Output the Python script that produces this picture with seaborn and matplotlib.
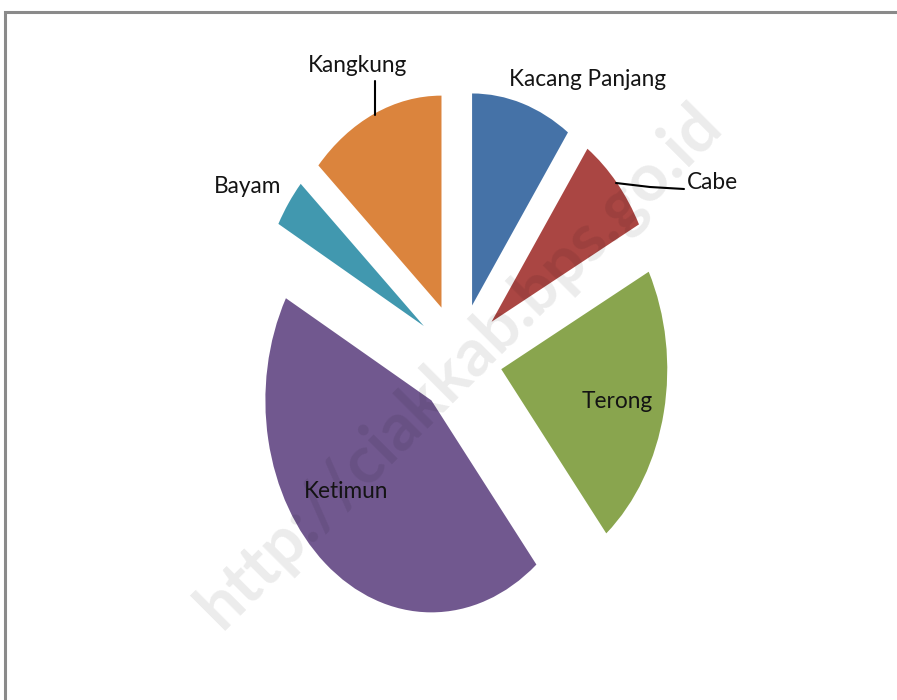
import matplotlib
matplotlib.use("Agg")
import matplotlib.pyplot as plt
import seaborn as sns
from matplotlib.lines import Line2D
from matplotlib.patches import Rectangle

# ---- data (percent share) ----
categories = ["Kacang Panjang", "Cabe", "Terong", "Ketimun", "Bayam", "Kangkung"]
values = [9.8, 7.6, 21.7, 43.9, 3.7, 13.3]
colors = ["#4572A7", "#AA4643", "#89A54E", "#71588F", "#4198AF", "#DB843D"]
watermark = "http://ciakkab.bps.go.id"

sns.set_theme(style="white")
plt.rcParams["font.family"] = ["Lato", "DejaVu Sans"]

W, H = 897, 700
fig = plt.figure(figsize=(W / 100, H / 100), dpi=100)
fig.patch.set_facecolor("white")
ax = fig.add_axes([0, 0, 1, 1])

# pie geometry (pixels): centre and radii of the (stretched) pie
cx, cy, rx, ry = 459, 358, 166, 212
ax.pie(values, colors=colors, startangle=90, counterclock=False,
       explode=[0.26] * len(values), radius=1,
       wedgeprops=dict(linewidth=0))
ax.set_aspect("auto")
ax.set_xlim(-cx / rx, (W - cx) / rx)
ax.set_ylim(-(H - cy) / ry, cy / ry)
ax.axis("off")


def fx(px):
    return px / W


def fy(py):
    return 1 - py / H


# chart border
fig.add_artist(Rectangle((fx(5), fy(760)), fx(960) - fx(5), fy(12) - fy(760),
                         transform=fig.transFigure, fill=False,
                         edgecolor="#8a8a8a", linewidth=2.2, zorder=5))

# labels (x centre, baseline y in pixels)
lab_kw = dict(fontsize=16.3, color="#141414", ha="center", va="baseline")
label_pos = {
    "Kangkung": (357, 72),
    "Kacang Panjang": (587, 86),
    "Cabe": (712, 189),
    "Bayam": (248, 193),
    "Terong": (617, 408),
    "Ketimun": (346, 498),
}
for name in categories:
    x, y = label_pos[name]
    fig.text(fx(x), fy(y), name, **lab_kw)

# leader lines
fig.add_artist(Line2D([fx(375), fx(375)], [fy(81), fy(115)],
                      transform=fig.transFigure, color="black", linewidth=1.5))
fig.add_artist(Line2D([fx(616), fx(650), fx(684)], [fy(183), fy(187), fy(189)],
                      transform=fig.transFigure, color="black", linewidth=1.5))

# watermark
fig.text(fx(460), fy(366), watermark, rotation=45, rotation_mode="anchor",
         ha="center", va="center", fontsize=48, fontweight="bold",
         color="black", alpha=0.08, zorder=10)

fig.savefig("out.png", dpi=100, facecolor="white")
